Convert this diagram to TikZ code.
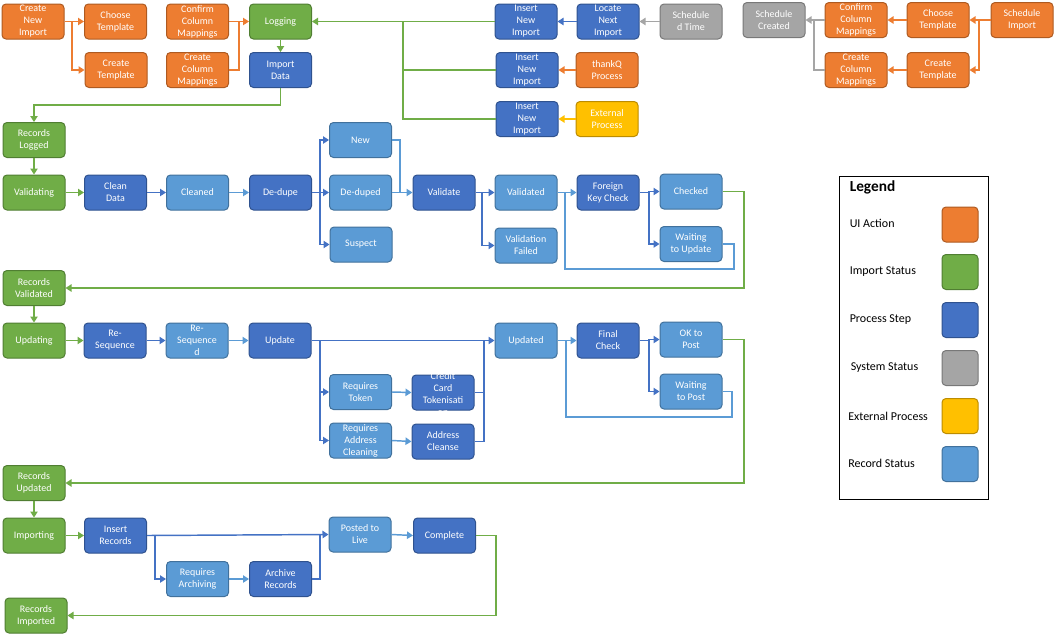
\documentclass[tikz,border=0pt]{standalone}
\usepackage{fontspec}
\setmainfont{Carlito}
\usetikzlibrary{arrows.meta}
\definecolor{cOr}{HTML}{ED7D31}\definecolor{cOrD}{HTML}{AE5A21}
\definecolor{cGr}{HTML}{70AD47}\definecolor{cGrD}{HTML}{507E32}
\definecolor{cBl}{HTML}{4472C4}\definecolor{cBlD}{HTML}{2F528F}
\definecolor{cGy}{HTML}{A5A5A5}\definecolor{cGyD}{HTML}{787878}
\definecolor{cYe}{HTML}{FFC000}\definecolor{cYeD}{HTML}{BC8C00}
\definecolor{cLb}{HTML}{5B9BD5}\definecolor{cLbD}{HTML}{41719C}
\newcommand{\bt}[1]{\smash{\raisebox{-3.75pt}{\begin{tabular}{@{}c@{}}#1\end{tabular}}}}
\tikzset{
  box/.style={rounded corners=3pt, minimum width=46.5pt, minimum height=26.25pt,
    inner xsep=1pt, inner ysep=0pt, align=center, text=white,
    font=\fontsize{7.5}{9}\selectfont, line width=0.75pt},
  uib/.style={box, fill=cOr, draw=cOrD},
  impb/.style={box, fill=cGr, draw=cGrD},
  procb/.style={box, fill=cBl, draw=cBlD},
  sysb/.style={box, fill=cGy, draw=cGyD},
  extb/.style={box, fill=cYe, draw=cYeD},
  recb/.style={box, fill=cLb, draw=cLbD},
  ln/.style={line width=1.1pt},
  ar/.style={ln, -{Triangle[width=5.5pt,length=4.5pt]}},
  lo/.style={ar, draw=cOr}, lon/.style={ln, draw=cOr},
  lg/.style={ar, draw=cGr}, lgn/.style={ln, draw=cGr},
  lb/.style={ar, draw=cBl}, lbn/.style={ln, draw=cBl},
  lgy/.style={ar, draw=cGy}, lgyn/.style={ln, draw=cGy},
  ly/.style={ar, draw=cYe},
  llb/.style={ar, draw=cLb}, llbn/.style={ln, draw=cLb},
  legtxt/.style={anchor=west, inner sep=0pt, font=\fontsize{9}{11}\selectfont},
  swatch/.style={rounded corners=3pt, minimum width=27pt, minimum height=26.25pt, line width=0.75pt}
}
\begin{document}
\begin{tikzpicture}[x=0.75pt,y=-0.75pt]
\useasboundingbox (0,0) rectangle (1056,636);
% ---------- top left
\node[uib] (cni) at (33,21.5) {Create\\New\\Import};
\node[uib] (cht1) at (115.5,21.5) {Choose\\Template};
\node[uib] (ccm1) at (197.5,21.5) {Confirm\\Column\\Mappings};
\node[impb] (log) at (280.5,21.5) {Logging};
\node[uib] (crt1) at (116,70) {Create\\Template};
\node[uib] (crm1) at (197.5,70) {Create\\Column\\Mappings};
\node[procb] (imd) at (280.5,70) {Import\\Data};
% ---------- top middle
\node[procb] (ini1) at (526,21.5) {Insert\\New\\Import};
\node[procb] (lni) at (608,21.5) {Locate\\Next\\Import};
\node[sysb] (sdt) at (691,21.5) {Schedule\\d Time};
\node[procb] (ini2) at (527,70) {Insert\\New\\Import};
\node[uib] (tqp) at (607,70) {thankQ\\Process};
\node[procb] (ini3) at (527,119) {Insert\\New\\Import};
\node[extb] (exp) at (607,119) {External\\Process};
% ---------- top right
\node[sysb] (scr) at (774,20) {Schedule\\Created};
\node[uib] (ccm2) at (856,20) {Confirm\\Column\\Mappings};
\node[uib] (cht2) at (938,20) {Choose\\Template};
\node[uib] (sim) at (1022,20) {Schedule\\Import};
\node[uib] (crm2) at (856,70) {Create\\Column\\Mappings};
\node[uib] (crt2) at (938,70) {Create\\Template};
% ---------- row 2
\node[impb] (rlog) at (34,140) {Records\\Logged};
\node[impb] (vlg) at (34,192.5) {Validating};
\node[procb] (cld) at (115.5,192.5) {Clean\\Data};
\node[recb] (clnd) at (197.5,192.5) {Cleaned};
\node[procb] (ddp) at (280.5,192.5) {De-dupe};
\node[recb] (new) at (360.5,140) {New};
\node[recb] (ddpd) at (360.5,192.5) {De-duped};
\node[recb] (susp) at (361,244.5) {Suspect};
\node[procb] (vali) at (444,192.5) {Validate};
\node[recb] (vald) at (526,192.5) {Validated};
\node[recb] (vfail) at (526,245.5) {Validation\\Failed};
\node[procb] (fkc) at (608,192.5) {Foreign\\Key Check};
\node[recb] (chk) at (691,191.5) {Checked};
\node[recb] (wtu) at (691,244) {Waiting\\to Update};
\node[impb] (rval) at (34,288) {Records\\Validated};
% ---------- row 3
\node[impb] (updg) at (34,340.5) {Updating};
\node[procb] (rsq) at (115,340.5) {Re-\\Sequence};
\node[recb] (rsqd) at (197,340.5) {Re-\\Sequence\\d};
\node[procb] (updt) at (280,340.5) {Update};
\node[recb] (rtok) at (360.5,392) {Requires\\Token};
\node[procb] (cct) at (443,392.5) {\bt{Credit\\Card\\Tokenisati\\on}};
\node[recb] (rac) at (360.5,440.5) {Requires\\Address\\Cleaning};
\node[procb] (acl) at (443,441.5) {Address\\Cleanse};
\node[recb] (updd) at (526,340.5) {Updated};
\node[procb] (fch) at (608,340.5) {Final\\Check};
\node[recb] (okp) at (691,339.5) {OK to\\Post};
\node[recb] (wtp) at (691,391.5) {Waiting\\to Post};
\node[impb] (rupd) at (34,483) {Records\\Updated};
% ---------- row 4
\node[impb] (impg) at (34,535.5) {Importing};
\node[procb] (insr) at (115.5,535.5) {Insert\\Records};
\node[recb] (rarc) at (197.5,579) {Requires\\Archiving};
\node[procb] (arcr) at (280.5,579) {Archive\\Records};
\node[recb] (ptl) at (360,534.5) {Posted to\\Live};
\node[procb] (cmpl) at (444.5,535.5) {Complete};
\node[impb] (rimp) at (36,615.5) {Records\\Imported};
% ---------- legend
\node[draw=black, line width=0.75pt, minimum width=111.75pt, minimum height=242.25pt, inner sep=0pt] (leg) at (913.5,337.5) {};
\node[legtxt, font=\bfseries\fontsize{11.5}{13}\selectfont] (legt) at (849.5,187.5) {Legend};
\node[legtxt] (l1) at (849.5,223.5) {UI Action};
\node[legtxt] (l2) at (849.5,271.5) {Import Status};
\node[legtxt] (l3) at (849.5,320) {Process Step};
\node[legtxt] (l4) at (850.5,368) {System Status};
\node[legtxt] (l5) at (848,416) {External Process};
\node[legtxt] (l6) at (848,463.5) {Record Status};
\node[swatch, fill=cOr, draw=cOrD] (s1) at (960,224.5) {};
\node[swatch, fill=cGr, draw=cGrD] (s2) at (960,272) {};
\node[swatch, fill=cBl, draw=cBlD] (s3) at (960,320) {};
\node[swatch, fill=cGy, draw=cGyD] (s4) at (960,368) {};
\node[swatch, fill=cYe, draw=cYeD] (s5) at (960,416) {};
\node[swatch, fill=cLb, draw=cLbD] (s6) at (960,464) {};
% ---------- junction coordinates
\coordinate (j1) at (72,0);
\coordinate (j2) at (239,0);
\coordinate (j3) at (0,105);
\coordinate (tr) at (403,21.5);
\coordinate (j4) at (979,0);
\coordinate (j5) at (814,0);
\coordinate (j6) at (320,0);
\coordinate (j7) at (400,0);
\coordinate (j8) at (482,0);
\coordinate (j9) at (649,0);
\coordinate (j10) at (484,0);
\coordinate (j11) at (155,0);
\coordinate (lp1) at (734,269);
\coordinate (lp2) at (565,269);
\coordinate (lp3) at (732,417);
\coordinate (lp4) at (566,417);
\coordinate (g1) at (744,288);
\coordinate (g2) at (744,483);
\coordinate (g3) at (496,615.5);
% ---------- connectors top left
\draw[lo] (cni.east) -- (cht1.west);
\draw[lo] (cni.east -| j1) |- (crt1.west);
\draw[lo] (ccm1.east) -- (log.west);
\draw[lon] (crm1.east) -| (j2 |- log.west);
\draw[lg] (log.south) -- (imd.north);
\draw[lg] (imd.south) -- (imd.south |- j3) -| (rlog.north);
% top middle
\draw[lg] (ini1.west) -- (log.east);
\draw[lgn] (ini2.west) -| (tr);
\draw[lgn] (ini3.west) -| (tr);
\draw[lb] (lni.west) -- (ini1.east);
\draw[lgy] (sdt.west) -- (lni.east);
\draw[lo] (tqp.west) -- (ini2.east);
\draw[ly] (exp.west) -- (ini3.east);
% top right
\draw[lo] (sim.west) -- (cht2.east);
\draw[lo] (sim.west -| j4) |- (crt2.east);
\draw[lo] (cht2.west) -- (ccm2.east);
\draw[lo] (crt2.west) -- (crm2.east);
\draw[lgy] (ccm2.west) -- (scr.east);
\draw[lgyn] (crm2.west) -| (j5 |- scr.east);
% row 2
\draw[lg] (rlog.south) -- (vlg.north);
\draw[lg] (vlg.east) -- (cld.west);
\draw[lb] (cld.east) -- (clnd.west);
\draw[llb] (clnd.east) -- (ddp.west);
\draw[lb] (ddp.east) -- (ddpd.west);
\draw[lb] (ddp.east -| j6) |- (new.west);
\draw[lb] (ddp.east -| j6) |- (susp.west);
\draw[llb] (ddpd.east) -- (vali.west);
\draw[llbn] (new.east) -| (j7 |- vali.west);
\draw[lb] (vali.east) -- (vald.west);
\draw[lb] (vali.east -| j8) |- (vfail.west);
\draw[llb] (vald.east) -- (fkc.west);
\draw[llbn] (wtu.east) -| (lp1) -- (lp2) -- (lp2 |- fkc.west);
\draw[lb] (fkc.east) -- (fkc.east -| j9) |- (chk.west);
\draw[lb] (fkc.east -| j9) |- (wtu.west);
\draw[lg] (chk.east) -| (g1) -- (rval.east);
% row 3
\draw[lg] (rval.south) -- (updg.north);
\draw[lg] (updg.east) -- (rsq.west);
\draw[lb] (rsq.east) -- (rsqd.west);
\draw[llb] (rsqd.east) -- (updt.west);
\draw[lb] (updt.east) -- (updd.west);
\draw[lb] (updt.east -| j6) |- (rtok.west);
\draw[lb] (updt.east -| j6) |- (rac.west);
\draw[llb] (rtok.east) -- (cct.west);
\draw[llb] (rac.east) -- (acl.west);
\draw[lbn] (cct.east) -| (j10 |- updd.west);
\draw[lbn] (acl.east) -| (j10 |- updd.west);
\draw[llb] (updd.east) -- (fch.west);
\draw[llbn] (wtp.east) -| (lp3) -- (lp4) -- (lp4 |- fch.west);
\draw[lb] (fch.east) -- (fch.east -| j9) |- (okp.west);
\draw[lb] (fch.east -| j9) |- (wtp.west);
\draw[lg] (okp.east) -| (g2) -- (rupd.east);
% row 4
\draw[lg] (rupd.south) -- (impg.north);
\draw[lg] (impg.east) -- (insr.west);
\draw[lb] (insr.east) -- (ptl.west);
\draw[lb] (insr.east -| j11) |- (rarc.west);
\draw[llb] (rarc.east) -- (arcr.west);
\draw[lbn] (arcr.east) -| (j6 |- ptl.west);
\draw[llb] (ptl.east) -- (cmpl.west);
\draw[lg] (cmpl.east) -| (g3) -- (rimp.east);
\end{tikzpicture}
\end{document}
